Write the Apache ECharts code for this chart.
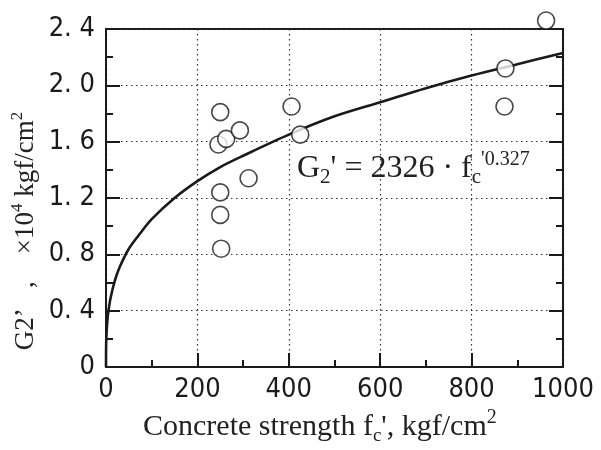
<!DOCTYPE html>
<html><head><meta charset="utf-8">
<script src="https://cdn.jsdelivr.net/npm/echarts@6/dist/echarts.min.js"></script>
<style>html,body{margin:0;padding:0;background:#fff}#c{width:601px;height:450px}</style>
</head><body><div id="c"></div>
<script>
// Measured data points (fc', G2' x10^4)
const pointsX = [250, 246, 263, 293, 312, 250, 250, 252, 406, 425, 874, 872, 963];
const pointsY = [1.81, 1.58, 1.62, 1.68, 1.34, 1.24, 1.08, 0.84, 1.85, 1.65, 2.12, 1.85, 2.46];
// Fitted curve
const curveX = [0, 0.2, 1, 3, 5, 10, 20, 30, 50, 75, 100, 150, 200, 250, 300, 400, 500, 600, 700, 800, 900, 1000];
const curveY = [0, 0.14, 0.23, 0.33, 0.39, 0.49, 0.62, 0.71, 0.84, 0.95, 1.05, 1.20, 1.32, 1.42, 1.50, 1.65, 1.78, 1.88, 1.98, 2.07, 2.15, 2.23];
// Tick labels
const xTickLabels = ['0', '200', '400', '600', '800', '1000'];
const yTickLabels = ['0', '0. 4', '0. 8', '1. 2', '1. 6', '2. 0', '2. 4'];

const chart = echarts.init(document.getElementById('c'));
const tickFont = "'Liberation Sans Narrow','DejaVu Sans Condensed','DejaVu Sans',sans-serif";
const serif = "'Liberation Serif','Times New Roman',serif";
const ink = '#1a1a1a';

function xAxisCfg(interval, tickLen, labels) {
  return {
    type: 'value', position: 'bottom', min: 0, max: 1000, interval: interval,
    axisLine: {show: true, lineStyle: {color: ink, width: 2}},
    axisTick: {show: true, inside: true, length: tickLen, lineStyle: {color: ink, width: 2}},
    splitLine: labels ? {show: true, lineStyle: {color: '#333', type: [1.5, 3.5], width: 1.2}} : {show: false},
    axisLabel: labels ? {show: true, margin: 9, fontFamily: tickFont, fontSize: 27, color: ink,
      formatter: v => xTickLabels[Math.round(v / 200)]} : {show: false}
  };
}
function yAxisCfg(pos, interval, tickLen, labels) {
  const c = {
    type: 'value', position: pos, min: 0, max: 2.4, interval: interval,
    axisLine: {show: true, lineStyle: {color: ink, width: 2}},
    axisTick: {show: true, inside: true, length: tickLen, lineStyle: {color: ink, width: 2}},
    splitLine: labels ? {show: true, lineStyle: {color: '#333', type: [1.5, 3.5], width: 1.2}} : {show: false},
    axisLabel: labels ? {show: true, margin: 11, fontFamily: tickFont, fontSize: 27, color: ink,
      formatter: v => yTickLabels[Math.round(v / 0.4)]} : {show: false}
  };
  if (pos === 'right') c.axisLine.onZero = false;
  return c;
}

chart.setOption({
  animation: false,
  backgroundColor: '#fff',
  grid: {left: 106, right: 38, top: 29, bottom: 83, show: true, borderColor: ink, borderWidth: 2, backgroundColor: 'transparent'},
  xAxis: [
    xAxisCfg(200, 14, true),
    xAxisCfg(100, 7, false)
  ],
  yAxis: [
    yAxisCfg('left', 0.4, 14, true),
    yAxisCfg('left', 0.2, 7, false),
    yAxisCfg('right', 0.4, 14, false),
    yAxisCfg('right', 0.2, 7, false)
  ],
  series: [
    {
      type: 'line', xAxisIndex: 0, yAxisIndex: 0, showSymbol: false, smooth: 0.3,
      data: curveX.map((x, i) => [x, curveY[i]]),
      lineStyle: {color: ink, width: 2.6}, z: 3
    },
    {
      type: 'scatter', xAxisIndex: 0, yAxisIndex: 0, clip: false,
      data: pointsX.map((x, i) => [x, pointsY[i]]),
      symbol: 'circle', symbolSize: 17,
      itemStyle: {color: '#fff', borderColor: ink, borderWidth: 1.6}, z: 4
    }
  ],
  graphic: [
    {
      type: 'text', left: 297, top: 150, z: 10,
      style: {
        text: "{a|G}{sub|2}{a|' = 2326 · f}{sub|c}{sup|'0.327}",
        rich: {
          a: {fontFamily: serif, fontSize: 32, fill: '#222', lineHeight: 38, verticalAlign: 'middle'},
          sub: {fontFamily: serif, fontSize: 21, fill: '#222', lineHeight: 38, verticalAlign: 'bottom'},
          sup: {fontFamily: serif, fontSize: 20, fill: '#222', lineHeight: 38, verticalAlign: 'top'}
        }
      }
    },
    {
      type: 'text', left: 143, top: 408, z: 10,
      style: {
        text: "{a|Concrete strength f}{sub|c}{a|', kgf/cm}{sup|2}",
        rich: {
          a: {fontFamily: serif, fontSize: 30, fill: '#222', lineHeight: 38, verticalAlign: 'middle'},
          sub: {fontFamily: serif, fontSize: 19, fill: '#222', lineHeight: 38, verticalAlign: 'bottom'},
          sup: {fontFamily: serif, fontSize: 20, fill: '#222', lineHeight: 38, verticalAlign: 'top'}
        }
      }
    },
    {
      type: 'text', x: 26, y: 231, rotation: Math.PI / 2, z: 10,
      style: {
        text: "{a|G2’   ,    ×10}{sup|4}{a| kgf/cm}{sup|2}",
        align: 'center', verticalAlign: 'middle',
        rich: {
          a: {fontFamily: serif, fontSize: 27, fill: '#222', lineHeight: 34, verticalAlign: 'middle'},
          sup: {fontFamily: serif, fontSize: 17, fill: '#222', lineHeight: 34, verticalAlign: 'top'}
        }
      }
    }
  ]
});
</script>
</body></html>
